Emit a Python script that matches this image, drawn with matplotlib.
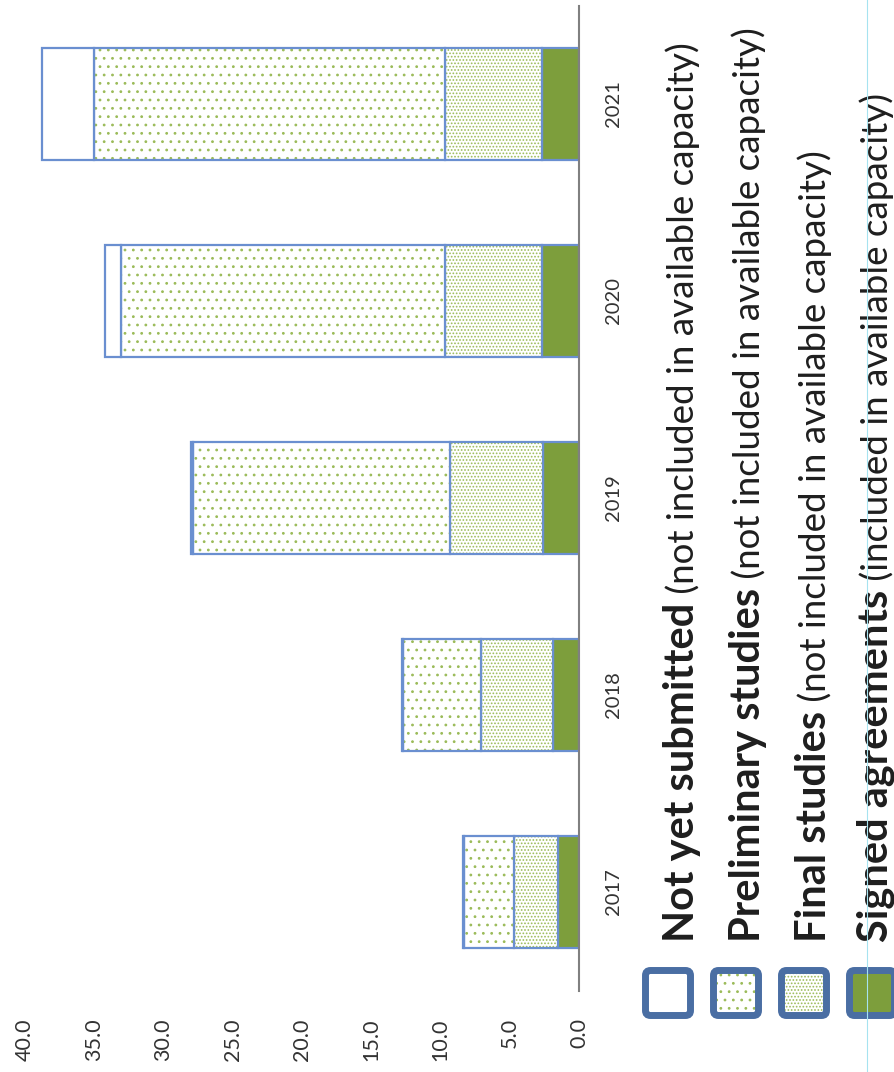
import matplotlib
matplotlib.use('Agg')
import matplotlib.pyplot as plt
from matplotlib.patches import FancyBboxPatch

# capacity by stage, GW
years = ['2017', '2018', '2019', '2020', '2021']
signed = [1.5, 1.9, 2.6, 2.7, 2.7]
final = [3.2, 5.2, 6.7, 7.0, 7.0]
prelim = [3.6, 5.6, 18.6, 23.4, 25.3]
not_yet = [0.1, 0.1, 0.15, 1.1, 3.8]
value_ticks = [0, 5, 10, 15, 20, 25, 30, 35, 40]

legend_bold = ['Not yet submitted', 'Preliminary studies', 'Final studies', 'Signed agreements']
legend_rest = [' (not included in available capacity)'] * 3 + [' (included in available capacity)']

GREEN = '#7d9e3c'
DOT = '#9bbb59'
EDGE = '#6a8fd0'
BOX = '#4a6ea3'
TXT = '#1e1e1e'

plt.rcParams['font.family'] = ['Lato', 'DejaVu Sans']
plt.rcParams['hatch.linewidth'] = 0.8

fig = plt.figure(figsize=(8.95, 10.72), dpi=100)
W, H = 895, 1072

# page is laid out sideways: values run right-to-left, years bottom-to-top
ax = fig.add_axes([25 / W, 1 - 990.5 / H, 554 / W, 985 / H])
pos = list(range(len(years)))
bar_h = 0.57

segments = [(signed, GREEN, None), (final, 'white', '.....'),
            (prelim, 'white', '..'), (not_yet, 'white', None)]
left = [0] * len(years)
for vals, fc, hatch in segments:
    if hatch:
        ax.barh(pos, vals, left=left, height=bar_h, color=fc, edgecolor=DOT,
                hatch=hatch, linewidth=0)
    else:
        ax.barh(pos, vals, left=left, height=bar_h, color=fc, linewidth=0)
    ax.barh(pos, vals, left=left, height=bar_h, fill=False, edgecolor=EDGE, linewidth=1.6)
    left = [a + b for a, b in zip(left, vals)]

ax.set_xlim(40, 0)
ax.set_ylim(-0.5, 4.5)
for s in ['top', 'left', 'bottom']:
    ax.spines[s].set_visible(False)
ax.spines['right'].set_color('#808080')
ax.spines['right'].set_linewidth(1.5)

ax.set_xticks(value_ticks, [f'{v:.1f}' for v in value_ticks], rotation=90,
              fontsize=15.5, color='#333333')
ax.tick_params(axis='x', length=0, pad=20)
ax.yaxis.tick_right()
ax.set_yticks(pos, years, rotation=90, fontsize=14.5, color='#333333')
ax.tick_params(axis='y', length=0, pad=19)
for lbl in ax.get_yticklabels():
    lbl.set_va('center')

# legend drawn in pixel coordinates on a full-page overlay
ov = fig.add_axes([0, 0, 1, 1])
ov.set_xlim(0, W)
ov.set_ylim(H, 0)
ov.axis('off')

box_x = [642, 710, 778, 846]
box_top, box_size = 967, 52
fills = [('white', None), ('white', '..'), ('white', '.....'), (GREEN, None)]
inset = 3.5
for bx, (fc, hatch) in zip(box_x, fills):
    kw = dict(boxstyle='round,pad=0,rounding_size=5')
    rect = (bx + inset, box_top + inset)
    size = box_size - 2 * inset
    if hatch:
        ov.add_patch(FancyBboxPatch(rect, size, size, facecolor=fc, edgecolor=DOT,
                                    hatch=hatch, linewidth=0, **kw))
    else:
        ov.add_patch(FancyBboxPatch(rect, size, size, facecolor=fc, linewidth=0, **kw))
    ov.add_patch(FancyBboxPatch(rect, size, size, fill=False, edgecolor=BOX,
                                linewidth=5, **kw))

text_base = [694, 760, 826, 888]
text_start = 942
fig.canvas.draw()
renderer = fig.canvas.get_renderer()
for base, bold, rest in zip(text_base, legend_bold, legend_rest):
    t = ov.text(base, text_start, bold, rotation=90, rotation_mode='anchor',
                ha='left', va='baseline', fontsize=30, fontweight='bold', color=TXT)
    length = t.get_window_extent(renderer).height
    ov.text(base, text_start - length, rest, rotation=90, rotation_mode='anchor',
            ha='left', va='baseline', fontsize=26.5, color=TXT)

ov.plot([867, 867], [0, H], color='#a6e3f0', linewidth=0.8, zorder=10)

fig.savefig('out.png', dpi=100)
